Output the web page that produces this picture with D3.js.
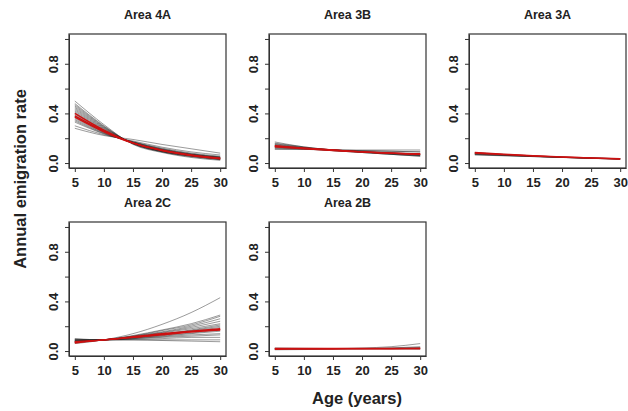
<!DOCTYPE html>
<html>
<head>
<meta charset="utf-8">
<script src="https://cdn.jsdelivr.net/npm/d3@7"></script>
<style>
  body { margin: 0; background: #fff; }
  svg { font-family: "Liberation Sans", Arial, sans-serif; }
  .axis text { font-size: 13px; font-weight: bold; fill: #222; }
  .axis path, .axis line { stroke: #333; stroke-width: 1; }
</style>
</head>
<body>
<svg id="chart" width="628" height="411"></svg>
<script>
var ages = [5, 10, 15, 20, 25, 30];

var areaTitles = ["Area 4A", "Area 3B", "Area 3A", "Area 2C", "Area 2B"];

var yTicks = [0, 0.2, 0.4, 0.6, 0.8, 1.0];
var yLabelled = [0, 0.4, 0.8];
var xTicks = [5, 10, 15, 20, 25, 30];

// Area 4A
var area4A_grey = [
  [0.50, 0.31, 0.15, 0.085, 0.045, 0.022],
  [0.48, 0.30, 0.155, 0.09, 0.05, 0.027],
  [0.47, 0.295, 0.155, 0.09, 0.055, 0.03],
  [0.46, 0.29, 0.157, 0.092, 0.055, 0.032],
  [0.45, 0.285, 0.158, 0.095, 0.06, 0.036],
  [0.44, 0.28, 0.16, 0.095, 0.058, 0.034],
  [0.43, 0.275, 0.16, 0.098, 0.062, 0.038],
  [0.42, 0.27, 0.162, 0.102, 0.066, 0.042],
  [0.41, 0.265, 0.16, 0.097, 0.058, 0.03],
  [0.40, 0.262, 0.163, 0.105, 0.068, 0.044],
  [0.39, 0.258, 0.163, 0.10, 0.06, 0.035],
  [0.38, 0.255, 0.166, 0.108, 0.07, 0.048],
  [0.37, 0.25, 0.165, 0.105, 0.065, 0.04],
  [0.36, 0.246, 0.167, 0.11, 0.07, 0.045],
  [0.35, 0.242, 0.17, 0.115, 0.075, 0.05],
  [0.34, 0.238, 0.17, 0.112, 0.072, 0.046],
  [0.33, 0.235, 0.172, 0.12, 0.08, 0.055],
  [0.30, 0.228, 0.178, 0.128, 0.09, 0.065],
  [0.28, 0.222, 0.19, 0.15, 0.115, 0.08]
];
var area4A_red = [
  [0.40, 0.265, 0.162, 0.103, 0.065, 0.04],
  [0.38, 0.258, 0.162, 0.103, 0.063, 0.036],
  [0.37, 0.252, 0.16, 0.10, 0.06, 0.035]
];

// Area 3B
var area3B_grey = [
  [0.17, 0.13, 0.105, 0.085, 0.07, 0.055],
  [0.16, 0.13, 0.105, 0.09, 0.075, 0.06],
  [0.155, 0.125, 0.10, 0.085, 0.07, 0.055],
  [0.15, 0.125, 0.105, 0.09, 0.075, 0.065],
  [0.145, 0.12, 0.10, 0.085, 0.07, 0.06],
  [0.14, 0.12, 0.105, 0.09, 0.08, 0.07],
  [0.135, 0.12, 0.105, 0.09, 0.08, 0.065],
  [0.13, 0.12, 0.105, 0.095, 0.085, 0.075],
  [0.125, 0.115, 0.10, 0.09, 0.08, 0.07],
  [0.12, 0.115, 0.105, 0.10, 0.095, 0.09],
  [0.115, 0.11, 0.105, 0.10, 0.095, 0.09],
  [0.11, 0.11, 0.105, 0.105, 0.105, 0.105]
];
var area3B_red = [
  [0.14, 0.12, 0.105, 0.09, 0.08, 0.07],
  [0.135, 0.12, 0.105, 0.09, 0.08, 0.075],
  [0.13, 0.115, 0.10, 0.09, 0.08, 0.07]
];

// Area 3A
var area3A_grey = [
  [0.085, 0.07, 0.058, 0.048, 0.04, 0.033],
  [0.08, 0.068, 0.057, 0.048, 0.04, 0.034],
  [0.078, 0.066, 0.055, 0.046, 0.038, 0.03],
  [0.075, 0.065, 0.055, 0.047, 0.04, 0.035],
  [0.072, 0.062, 0.053, 0.045, 0.038, 0.032],
  [0.07, 0.062, 0.054, 0.046, 0.04, 0.035],
  [0.068, 0.06, 0.052, 0.045, 0.038, 0.033],
  [0.065, 0.058, 0.052, 0.046, 0.04, 0.036]
];
var area3A_red = [
  [0.085, 0.072, 0.06, 0.05, 0.042, 0.035],
  [0.08, 0.068, 0.057, 0.048, 0.04, 0.033]
];

// Area 2C
var area2C_grey = [
  [0.06, 0.09, 0.14, 0.215, 0.31, 0.43],
  [0.07, 0.09, 0.125, 0.17, 0.22, 0.29],
  [0.07, 0.09, 0.12, 0.165, 0.21, 0.28],
  [0.075, 0.09, 0.12, 0.155, 0.20, 0.26],
  [0.075, 0.09, 0.115, 0.15, 0.19, 0.24],
  [0.08, 0.09, 0.115, 0.145, 0.18, 0.22],
  [0.08, 0.09, 0.11, 0.135, 0.17, 0.21],
  [0.075, 0.09, 0.11, 0.135, 0.165, 0.20],
  [0.085, 0.09, 0.11, 0.13, 0.16, 0.19],
  [0.08, 0.09, 0.105, 0.125, 0.145, 0.17],
  [0.085, 0.09, 0.105, 0.12, 0.14, 0.16],
  [0.09, 0.09, 0.10, 0.115, 0.13, 0.14],
  [0.09, 0.09, 0.10, 0.11, 0.12, 0.13],
  [0.095, 0.09, 0.095, 0.10, 0.11, 0.11],
  [0.095, 0.09, 0.09, 0.09, 0.09, 0.09],
  [0.10, 0.09, 0.09, 0.085, 0.08, 0.075]
];
var area2C_red = [
  [0.07, 0.09, 0.115, 0.14, 0.16, 0.18],
  [0.065, 0.09, 0.11, 0.135, 0.155, 0.175],
  [0.075, 0.09, 0.11, 0.13, 0.155, 0.17]
];

// Area 2B
var area2B_grey = [
  [0.02, 0.02, 0.02, 0.025, 0.035, 0.06],
  [0.015, 0.015, 0.02, 0.02, 0.025, 0.035],
  [0.02, 0.02, 0.02, 0.02, 0.02, 0.02],
  [0.025, 0.022, 0.02, 0.018, 0.016, 0.015],
  [0.01, 0.012, 0.015, 0.018, 0.022, 0.028],
  [0.018, 0.018, 0.018, 0.02, 0.022, 0.025]
];
var area2B_red = [
  [0.02, 0.02, 0.02, 0.02, 0.02, 0.02],
  [0.015, 0.016, 0.017, 0.018, 0.019, 0.02]
];

var greyLines = [area4A_grey, area3B_grey, area3A_grey, area2C_grey, area2B_grey];
var redLines = [area4A_red, area3B_red, area3A_red, area2C_red, area2B_red];

var svg = d3.select("#chart");

var panelW = 157;
var panelH = 134;
var left0 = 69, top0 = 34;
var colStep = 200, rowStep = 188;

// R style 4% expansion of the axis ranges
var xScale = d3.scaleLinear().domain([4, 31]).range([0, panelW]);
var yScale = d3.scaleLinear().domain([-0.04, 1.04]).range([panelH, 0]);

var line = d3.line()
  .x(function(d, i) { return xScale(ages[i]); })
  .y(function(d) { return yScale(d); })
  .curve(d3.curveMonotoneX);

areaTitles.forEach(function(title, i) {
  var col = i % 3, row = Math.floor(i / 3);
  var g = svg.append("g")
    .attr("transform", "translate(" + (left0 + col * colStep) + "," + (top0 + row * rowStep) + ")");

  g.append("text")
    .attr("x", panelW / 2)
    .attr("y", -15)
    .attr("text-anchor", "middle")
    .style("font-size", "12.5px")
    .style("font-weight", "bold")
    .style("fill", "#222")
    .text(title);

  g.selectAll(".grey")
    .data(greyLines[i])
    .enter().append("path")
    .attr("d", line)
    .attr("fill", "none")
    .attr("stroke", "#222")
    .attr("stroke-opacity", 0.5)
    .attr("stroke-width", 0.9);

  g.selectAll(".red")
    .data(redLines[i])
    .enter().append("path")
    .attr("d", line)
    .attr("fill", "none")
    .attr("stroke", "#cc1111")
    .attr("stroke-width", 1.4);

  // y-axis
  var yAxis = g.append("g")
    .classed("axis", true)
    .call(d3.axisLeft(yScale)
      .tickValues(yTicks)
      .tickSize(4)
      .tickSizeOuter(0)
      .tickFormat(function(d) {
        return yLabelled.indexOf(d) >= 0 ? d3.format(".1f")(d) : "";
      }));
  yAxis.selectAll("text")
    .attr("transform", "rotate(-90)")
    .attr("x", 0)
    .attr("y", -11)
    .attr("dy", 0)
    .attr("text-anchor", "middle");

  // x-axis
  g.append("g")
    .classed("axis", true)
    .attr("transform", "translate(0," + panelH + ")")
    .call(d3.axisBottom(xScale)
      .tickValues(xTicks)
      .tickSize(4)
      .tickSizeOuter(0)
      .tickPadding(6));

  // box
  g.append("rect")
    .attr("width", panelW)
    .attr("height", panelH)
    .attr("fill", "none")
    .attr("stroke", "#333")
    .attr("stroke-width", 1.2);
});

svg.append("text")
  .attr("transform", "translate(26,179) rotate(-90)")
  .attr("text-anchor", "middle")
  .style("font-size", "16.5px")
  .style("font-weight", "bold")
  .style("fill", "#222")
  .text("Annual emigration rate");

svg.append("text")
  .attr("x", 357)
  .attr("y", 404)
  .attr("text-anchor", "middle")
  .style("font-size", "16.5px")
  .style("font-weight", "bold")
  .style("fill", "#222")
  .text("Age (years)");
</script>
</body>
</html>
